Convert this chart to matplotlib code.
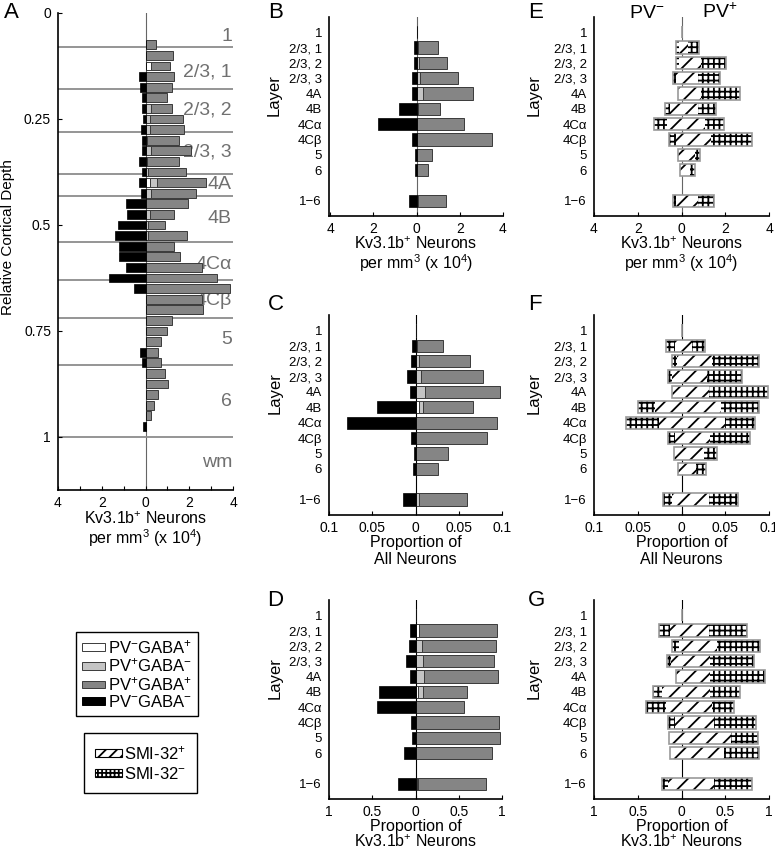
import numpy as np
import matplotlib
matplotlib.use("Agg")
import matplotlib.pyplot as plt
from matplotlib.patches import Patch
from matplotlib.ticker import FuncFormatter

plt.rcParams['font.family'] = ['Liberation Sans', 'DejaVu Sans']
plt.rcParams['mathtext.fontset'] = 'custom'
plt.rcParams['mathtext.rm'] = 'Liberation Sans'
plt.rcParams['mathtext.it'] = 'Liberation Sans:italic'
plt.rcParams['mathtext.bf'] = 'Liberation Sans:bold'
plt.rcParams['hatch.linewidth'] = 1.3

# ---- data: panel A (density per depth bin, x 10^4 per mm^3) -----------------
depth_bins = np.arange(0.075, 0.976, 0.025)
a_pvneg_gabapos = [0, 0, 0.27, 0, 0, 0, 0, 0, 0, 0, 0, 0, 0, 0.20, 0, 0, 0, 0, 0,
                   0, 0, 0, 0, 0, 0, 0, 0, 0, 0, 0, 0, 0, 0, 0, 0, 0, 0]
a_pvpos_gabaneg = [0, 0, 0, 0, 0, 0, 0.23, 0.20, 0.21, 0.05, 0.27, 0.05, 0.12, 0.33,
                   0.27, 0, 0.20, 0.12, 0.12, 0, 0, 0, 0, 0, 0, 0, 0, 0, 0, 0, 0,
                   0, 0, 0, 0, 0, 0]
a_pvpos_gabapos = [0.50, 1.27, 0.84, 1.31, 1.19, 0.99, 0.96, 1.52, 1.53, 1.49, 1.80,
                   1.46, 1.71, 2.23, 2.06, 1.92, 1.10, 0.79, 1.76, 1.30, 1.57, 2.56,
                   3.29, 3.86, 2.58, 2.64, 1.22, 0.96, 0.69, 0.55, 0.73, 0.88, 1.05,
                   0.55, 0.41, 0.27, 0]
a_pvneg_gabaneg = [0, 0, 0, 0.29, 0.23, 0.15, 0.15, 0.10, 0.21, 0.18, 0.15, 0.32,
                   0.15, 0.32, 0.21, 0.87, 0.85, 1.25, 1.40, 1.20, 1.20, 0.90, 1.68,
                   0.52, 0, 0, 0, 0, 0, 0.26, 0.15, 0, 0, 0, 0, 0, 0.10]

layer_bounds = [0.0795, 0.179, 0.280, 0.379, 0.431, 0.540, 0.629, 0.719, 0.830, 1.0]
layer_names_a = ['1', '2/3, 1', '2/3, 2', '2/3, 3', '4A', '4B', '4Cα', '4Cβ', '5', '6', 'wm']
layer_label_depth = [0.056, 0.139, 0.228, 0.327, 0.405, 0.485, 0.592, 0.677, 0.771, 0.917, 1.061]

# ---- data: panels B-G (per layer) -------------------------------------------
layers = ['1', '2/3, 1', '2/3, 2', '2/3, 3', '4A', '4B', '4Cα', '4Cβ', '5', '6', '1\u22126']
layer_pos = [1, 2, 3, 4, 5, 6, 7, 8, 9, 10, 12]

b_pvneg_gabapos = [0, 0, 0.03, 0.03, 0, 0.03, 0, 0, 0, 0, 0.02]
b_pvpos_gabaneg = [0, 0.05, 0.08, 0.15, 0.30, 0.05, 0.02, 0, 0, 0, 0.05]
b_pvpos_gabapos = [0, 0.94, 1.28, 1.73, 2.32, 1.00, 2.17, 3.50, 0.73, 0.52, 1.29]
b_pvneg_gabaneg = [0, 0.12, 0.12, 0.23, 0.20, 0.79, 1.80, 0.23, 0.05, 0.05, 0.35]

c_pvneg_gabapos = [0, 0, 0.001, 0, 0, 0.004, 0, 0, 0, 0, 0.001]
c_pvpos_gabaneg = [0, 0.002, 0.003, 0.006, 0.011, 0.005, 0.001, 0, 0, 0, 0.003]
c_pvpos_gabapos = [0, 0.030, 0.059, 0.072, 0.087, 0.057, 0.093, 0.083, 0.037, 0.026, 0.055]
c_pvneg_gabaneg = [0, 0.0035, 0.0054, 0.0093, 0.0066, 0.045, 0.079, 0.0054, 0.0015, 0.0027, 0.0143]

d_pvneg_gabapos = [0, 0.04, 0.01, 0, 0, 0.03, 0, 0, 0, 0, 0.02]
d_pvpos_gabaneg = [0, 0, 0.06, 0.09, 0.10, 0.06, 0.01, 0, 0, 0, 0.01]
d_pvpos_gabapos = [0, 0.90, 0.86, 0.82, 0.85, 0.50, 0.55, 0.965, 0.98, 0.88, 0.79]
d_pvneg_gabaneg = [0, 0.066, 0.078, 0.105, 0.058, 0.42, 0.45, 0.054, 0.035, 0.13, 0.20]

# SMI-32 split: PV- on the left, PV+ on the right
e_pvneg_smipos = [0, 0.10, 0.10, 0.23, 0.15, 0.53, 0.68, 0.23, 0.15, 0.08, 0.23]
e_pvneg_smineg = [0, 0.16, 0.16, 0.15, 0, 0.23, 0.58, 0.35, 0, 0, 0.18]
e_pvpos_smipos = [0, 0.30, 0.90, 0.76, 0.91, 0.76, 1.06, 1.37, 0.61, 0.38, 0.76]
e_pvpos_smineg = [0, 0.50, 1.12, 0.99, 1.75, 0.81, 0.89, 1.85, 0.23, 0.23, 0.73]

f_pvneg_smipos = [0, 0.007, 0.005, 0.011, 0.011, 0.030, 0.026, 0.007, 0.009, 0.004, 0.011]
f_pvneg_smineg = [0, 0.011, 0.006, 0.004, 0, 0.020, 0.037, 0.009, 0, 0, 0.010]
f_pvpos_smipos = [0, 0.012, 0.035, 0.029, 0.031, 0.045, 0.050, 0.033, 0.026, 0.016, 0.031]
f_pvpos_smineg = [0, 0.015, 0.054, 0.040, 0.068, 0.044, 0.034, 0.045, 0.014, 0.012, 0.034]

g_pvneg_smipos = [0, 0.127, 0.03, 0.115, 0.058, 0.22, 0.18, 0.07, 0.14, 0.13, 0.15]
g_pvneg_smineg = [0, 0.133, 0.08, 0.055, 0, 0.11, 0.23, 0.08, 0, 0, 0.07]
g_pvpos_smipos = [0, 0.31, 0.40, 0.33, 0.32, 0.32, 0.35, 0.37, 0.57, 0.49, 0.37]
g_pvpos_smineg = [0, 0.44, 0.50, 0.50, 0.63, 0.35, 0.25, 0.48, 0.30, 0.39, 0.43]

density_ticks = [-4, -2, 0, 2, 4]
all_ticks = [-0.1, -0.05, 0, 0.05, 0.1]
kv_ticks = [-1, -0.5, 0, 0.5, 1]

DENSITY_LABEL = 'Kv3.1b$^{+}$ Neurons\nper mm$^{3}$ (x 10$^{4}$)'
ALL_LABEL = 'Proportion of\nAll Neurons'
KV_LABEL = 'Proportion of\nKv3.1b$^{+}$ Neurons'

WHITE, LIGHT, GRAY, BLACK = 'white', '#c4c4c4', '#858585', 'black'
EDGE = '#3a3a3a'

W, H = 775, 849
fig = plt.figure(figsize=(W / 100, H / 100), dpi=100)


def px_axes(left, top, right, bottom):
    return fig.add_axes([left / W, 1 - bottom / H, (right - left) / W, (bottom - top) / H])


abs_fmt = FuncFormatter(lambda v, p: f"{abs(v):g}")


def style(ax, zero_color='0.4'):
    for s in ('top', 'right'):
        ax.spines[s].set_visible(False)
    for s in ('left', 'bottom'):
        ax.spines[s].set_linewidth(1.2)
    ax.tick_params(axis='x', direction='in', length=3, width=0.8, labelsize=10, pad=4)
    ax.axvline(0, color=zero_color, lw=0.8, zorder=0.5)


def stacked(ax, pos, white, light, gray, black, height):
    white = np.asarray(white); light = np.asarray(light)
    kw = dict(height=height, edgecolor=EDGE, linewidth=0.7, zorder=2)
    ax.barh(pos, white, left=0, color=WHITE, **kw)
    ax.barh(pos, light, left=white, color=LIGHT, **kw)
    ax.barh(pos, gray, left=white + light, color=GRAY, **kw)
    ax.barh(pos, -np.asarray(black), left=0, color=BLACK, height=height,
            edgecolor=BLACK, linewidth=0.5, zorder=2)


def hatched(ax, pos, neg_pos, neg_neg, pos_pos, pos_neg, height=0.8):
    neg_pos = np.asarray(neg_pos); pos_pos = np.asarray(pos_pos)
    kw = dict(height=height, color='white', edgecolor='black', linewidth=0, zorder=2)
    ax.barh(pos, -neg_pos, left=0, hatch='//', **kw)
    ax.barh(pos, -np.asarray(neg_neg), left=-neg_pos, hatch='+++', **kw)
    ax.barh(pos, pos_pos, left=0, hatch='//', **kw)
    ax.barh(pos, pos_neg, left=pos_pos, hatch='+++', **kw)
    total_left = neg_pos + np.asarray(neg_neg)
    total_right = pos_pos + np.asarray(pos_neg)
    ax.barh(pos, total_left + total_right, left=-total_left, height=height,
            fill=False, edgecolor='0.6', linewidth=1.2, zorder=3)


def layer_axes(ax, xlim, ticks, xlabel, ylabel_x=-0.27):
    ax.set_xlim(*xlim)
    ax.set_ylim(13, 0)
    ax.set_yticks(layer_pos)
    ax.set_yticklabels(layers)
    ax.tick_params(axis='y', length=0, labelsize=9.5, pad=5)
    ax.set_xticks(ticks)
    ax.xaxis.set_major_formatter(abs_fmt)
    spacing = 1.0 if '$' in xlabel else 1.2
    ax.set_xlabel(xlabel, fontsize=11.5, labelpad=0, linespacing=spacing)
    ax.set_ylabel('Layer', fontsize=12)
    ax.yaxis.set_label_coords(ylabel_x, 0.61)


# ---- panel A ----------------------------------------------------------------
axA = px_axes(58, 13, 233, 490)
style(axA)
axA.hlines(layer_bounds, -4, 4, color='0.55', lw=1.3, zorder=1)
for name, d in zip(layer_names_a, layer_label_depth):
    axA.text(3.95, d, name, ha='right', va='center', fontsize=14, color='#707070', zorder=1.5)
stacked(axA, depth_bins, a_pvneg_gabapos, a_pvpos_gabaneg, a_pvpos_gabapos,
        a_pvneg_gabaneg, height=0.021)
axA.set_xlim(-4, 4)
axA.set_ylim(1.125, 0)
axA.set_xticks(range(-4, 5))
axA.xaxis.set_major_formatter(FuncFormatter(lambda v, p: f"{abs(v):g}" if v % 2 == 0 else ""))
axA.set_yticks([0, 0.25, 0.5, 0.75, 1])
axA.yaxis.set_major_formatter(FuncFormatter(lambda v, p: f"{v:g}"))
axA.tick_params(axis='y', direction='in', length=3, width=0.8, labelsize=10, pad=5)
axA.set_xlabel(DENSITY_LABEL, fontsize=11.5, labelpad=0.5, linespacing=1.0)
axA.set_ylabel('Relative Cortical Depth', fontsize=11)
axA.yaxis.set_label_coords(-0.245, 0.53)

# ---- panels B-D -------------------------------------------------------------
axB = px_axes(329, 17, 503, 216)
style(axB)
stacked(axB, layer_pos, b_pvneg_gabapos, b_pvpos_gabaneg, b_pvpos_gabapos, b_pvneg_gabaneg, 0.8)
layer_axes(axB, (-4.05, 4), density_ticks, DENSITY_LABEL)

axC = px_axes(329, 315, 502, 515)
style(axC, 'black')
stacked(axC, layer_pos, c_pvneg_gabapos, c_pvpos_gabaneg, c_pvpos_gabapos, c_pvneg_gabaneg, 0.8)
layer_axes(axC, (-0.1, 0.1), all_ticks, ALL_LABEL)

axD = px_axes(329, 600, 502, 799)
style(axD, 'black')
stacked(axD, layer_pos, d_pvneg_gabapos, d_pvpos_gabaneg, d_pvpos_gabapos, d_pvneg_gabaneg, 0.8)
layer_axes(axD, (-1, 1), kv_ticks, KV_LABEL)

# ---- panels E-G -------------------------------------------------------------
axE = px_axes(594, 17, 769, 216)
style(axE)
hatched(axE, layer_pos, e_pvneg_smipos, e_pvneg_smineg, e_pvpos_smipos, e_pvpos_smineg)
layer_axes(axE, (-4, 4), density_ticks, DENSITY_LABEL, ylabel_x=-0.30)
axE.text(0.30, 0.995, 'PV$^{-}$', transform=axE.transAxes, ha='center', va='baseline', fontsize=14)
axE.text(0.72, 0.995, 'PV$^{+}$', transform=axE.transAxes, ha='center', va='baseline', fontsize=14)

axF = px_axes(594, 315, 769, 515)
style(axF, 'black')
hatched(axF, layer_pos, f_pvneg_smipos, f_pvneg_smineg, f_pvpos_smipos, f_pvpos_smineg)
layer_axes(axF, (-0.1, 0.1), all_ticks, ALL_LABEL, ylabel_x=-0.30)

axG = px_axes(594, 600, 769, 799)
style(axG, 'black')
hatched(axG, layer_pos, g_pvneg_smipos, g_pvneg_smineg, g_pvpos_smipos, g_pvpos_smineg)
layer_axes(axG, (-1, 1), kv_ticks, KV_LABEL, ylabel_x=-0.30)

# ---- panel letters ----------------------------------------------------------
for letter, x, y in [('A', 4, 12), ('B', 268, 13), ('C', 268, 305), ('D', 267, 600),
                     ('E', 528, 13), ('F', 528, 305), ('G', 528, 600)]:
    fig.text(x / W, 1 - y / H, letter, fontsize=16, ha='left', va='center')

# ---- legends ----------------------------------------------------------------
leg_kw = dict(loc='upper left', frameon=True, fancybox=False, framealpha=1,
              edgecolor='black', fontsize=12, borderaxespad=0,
              handleheight=0.35, handletextpad=0.15)
h1 = [Patch(facecolor=WHITE, edgecolor=EDGE, lw=0.7),
      Patch(facecolor=LIGHT, edgecolor=EDGE, lw=0.7),
      Patch(facecolor=GRAY, edgecolor=EDGE, lw=0.7),
      Patch(facecolor=BLACK, edgecolor=BLACK, lw=0.7)]
l1 = ['PV$^{-}$GABA$^{+}$', 'PV$^{+}$GABA$^{-}$', 'PV$^{+}$GABA$^{+}$', 'PV$^{-}$GABA$^{-}$']
leg1 = fig.legend(h1, l1, bbox_to_anchor=(76 / W, 1 - 632 / H), borderpad=0.35,
                  handlelength=1.4, labelspacing=0.05, **leg_kw)
leg1.get_frame().set_linewidth(1.0)

h2 = [Patch(facecolor='white', edgecolor='black', hatch='///', lw=0.8),
      Patch(facecolor='white', edgecolor='black', hatch='++++', lw=0.8)]
l2 = ['SMI-32$^{+}$', 'SMI-32$^{-}$']
leg2 = fig.legend(h2, l2, bbox_to_anchor=(84 / W, 1 - 733 / H), borderpad=0.65,
                  handlelength=1.6, labelspacing=0.25, **leg_kw)
leg2.get_frame().set_linewidth(1.0)

fig.savefig('out.png', dpi=100)
